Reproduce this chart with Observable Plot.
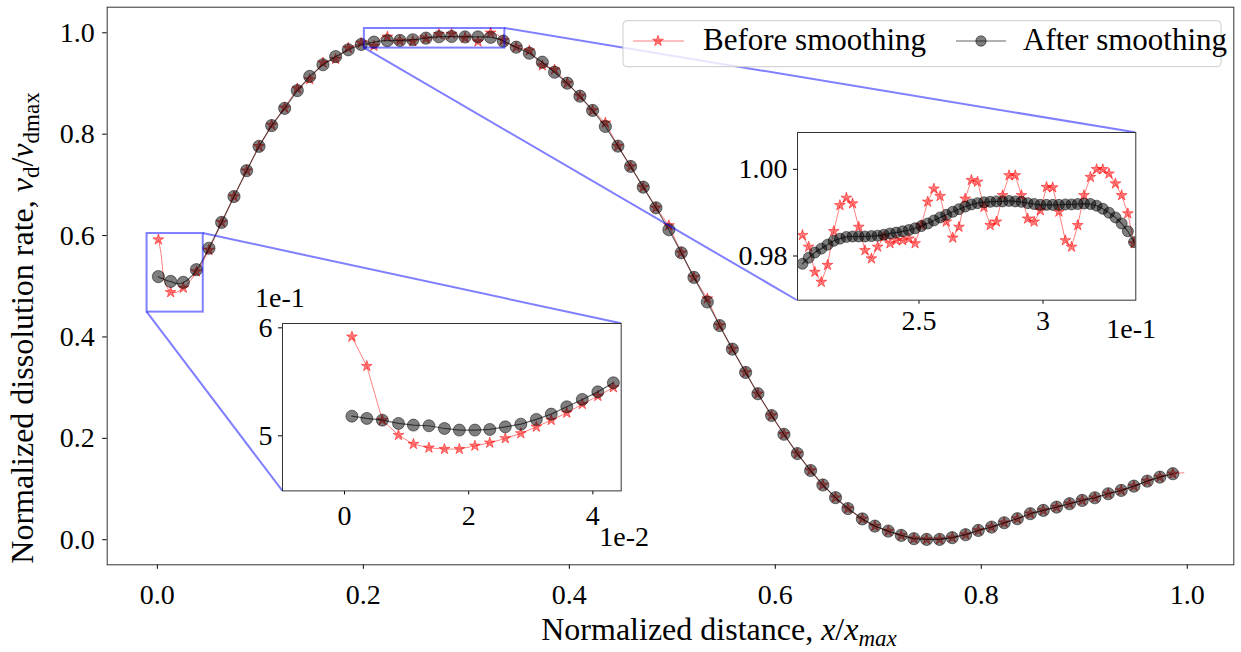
<!DOCTYPE html>
<html><head><meta charset="utf-8">
<script src="https://cdn.jsdelivr.net/npm/d3@7"></script>
<script src="https://cdn.jsdelivr.net/npm/@observablehq/plot@0.6"></script>
<style>
body{margin:0;background:#fff;}
#wrap{position:relative;width:1241px;height:652px;overflow:hidden;background:#fff;}
#wrap svg{position:absolute;overflow:visible;}
</style></head><body><div id="wrap"></div>
<script>
// ---------------- data ----------------
const seriesNames = ["Before smoothing", "After smoothing"];

// main-axes samples (every marked point)
const mainX = [0.001,0.0129,0.0252,0.0379,0.0501,0.0624,0.0744,0.0867,0.0987,0.1110,0.1236,0.1359,0.1479,0.1608,0.1731,0.1854,0.1980,0.2103,
  0.2233,0.2355,0.2480,0.2608,0.2734,0.2857,0.2987,0.3113,0.3236,0.3359,0.3485,0.3612,0.3738,0.3857,0.3980,0.4103,0.4226,0.4350,0.4472,0.4595,0.4718,0.4841,
  0.4967,0.5087,0.5210,0.5340,0.5459,0.5583,0.5712,0.5831,0.5964,0.6084,0.6214,0.6343,0.6462,0.6585,0.6705,
  0.6845,0.6967,0.7097,0.7223,0.7346,0.7469,0.7595,0.7718,0.7848,0.7971,0.8100,0.8223,0.8350,0.8476,0.8602,0.8731,0.8857,0.8980,0.9103,0.9233,0.9359,0.9482,0.9612,0.9734,0.9860];
const mainAfter = [0.519,0.5095,0.5077,0.5327,0.575,0.626,0.677,0.728,0.776,0.817,0.851,0.886,0.914,0.937,0.953,0.9665,0.977,0.9816,
  0.9845,0.9849,0.9863,0.9895,0.9922,0.9927,0.9918,0.9919,0.9910,0.9836,0.9716,0.9598,0.9420,0.9223,0.9006,0.8750,0.8468,0.8152,0.7764,0.7363,0.6955,0.6548,
  0.6115,0.5660,0.5175,0.4690,0.4225,0.3760,0.3300,0.2880,0.2450,0.2080,0.1700,0.1365,0.1080,0.0830,0.0615,
  0.0410,0.0268,0.0170,0.0085,0.0020,0.0006,0.0006,0.0040,0.0099,0.0183,0.0249,0.0335,0.0414,0.0513,0.0578,0.0643,0.0710,0.0775,0.0828,0.0907,0.0972,0.1057,0.1156,0.1235,0.1302];
const mainBefore = [0.592,0.488,0.4968,0.5290,0.5715,0.626,0.677,0.728,0.776,0.818,0.852,0.890,0.908,0.941,0.948,0.970,0.980,0.9740,
  0.9921,0.9842,0.9831,0.9885,0.9971,0.9977,0.9900,0.9826,1.0000,0.9850,0.9716,0.9648,0.9354,0.9273,0.9006,0.8750,0.8468,0.8225,0.7764,0.7363,0.6955,0.6548,
  0.6200,0.5660,0.5175,0.4756,0.4225,0.3760,0.3300,0.2880,0.2450,0.2080,0.1700,0.1365,0.1080,0.0830,0.0615,
  0.0410,0.0268,0.0170,0.0085,0.0020,0.0006,0.0006,0.0040,0.0099,0.0183,0.0249,0.0335,0.0414,0.0513,0.0578,0.0643,0.0710,0.0775,0.0828,0.0907,0.0972,0.1057,0.1156,0.1235,0.1302];
// unmarked last raw sample
const tailX = [0.9967];
const tailBefore = [0.1322];

// lower-left inset (dense samples)
const lowX = [0.0012,0.0036,0.0061,0.0087,0.0111,0.0136,0.0161,0.0185,0.0210,0.0234,0.0259,0.0284,0.0309,0.0333,0.0358,0.0383,0.0408,0.0433];
const lowBefore = [0.5917,0.5645,0.5145,0.5006,0.4923,0.4889,0.4877,0.4877,0.4907,0.4935,0.4976,0.5022,0.5083,0.5145,0.5213,0.5293,0.5368,0.5448];
const lowAfter = [0.5182,0.5161,0.5145,0.5115,0.5099,0.5093,0.5068,0.5053,0.5053,0.5059,0.5083,0.5108,0.5152,0.5201,0.5269,0.5337,0.5407,0.5491];

// upper inset (dense samples)
const upX = [0.2030,0.2055,0.2080,0.2106,0.2131,0.2156,0.2181,0.2207,0.2232,0.2257,0.2282,0.2308,0.2333,0.2358,0.2383,0.2408,0.2434,0.2459,
  0.2484,0.2509,0.2535,0.2560,0.2585,0.2610,0.2636,0.2661,0.2686,0.2711,0.2736,0.2762,0.2787,0.2812,0.2837,0.2863,0.2888,0.2913,
  0.2938,0.2964,0.2989,0.3014,0.3039,0.3064,0.3090,0.3115,0.3140,0.3165,0.3191,0.3216,0.3241,0.3266,0.3292,0.3317,0.3342,0.3367];
const upBefore = [0.9848,0.9821,0.9763,0.9740,0.9779,0.9857,0.9917,0.9934,0.9921,0.9867,0.9813,0.9794,0.9821,0.9844,0.9829,0.9836,0.9836,0.9840,
  0.9829,0.9871,0.9925,0.9955,0.9938,0.9879,0.9842,0.9867,0.9932,0.9975,0.9971,0.9913,0.9871,0.9879,0.9940,0.9986,0.9986,0.9940,
  0.9886,0.9879,0.9905,0.9959,0.9958,0.9902,0.9836,0.9821,0.9871,0.9940,0.9982,1.0000,1.0000,0.9990,0.9967,0.9940,0.9898,0.9829];
const upAfter = [0.9782,0.9796,0.9808,0.9817,0.9826,0.9835,0.9840,0.9844,0.9845,0.9845,0.9845,0.9846,0.9847,0.9849,0.9852,0.9854,0.9857,0.9860,
  0.9864,0.9869,0.9875,0.9882,0.9889,0.9895,0.9902,0.9908,0.9914,0.9919,0.9922,0.9924,0.9925,0.9926,0.9926,0.9927,0.9926,0.9925,
  0.9922,0.9920,0.9918,0.9918,0.9918,0.9918,0.9919,0.9919,0.9920,0.9921,0.9920,0.9916,0.9909,0.9900,0.9889,0.9875,0.9857,0.9832];

// axes limits and ticks
const mainXDomain = [-0.0487, 1.0452];
const mainYDomain = [-0.0495, 1.0505];
const mainXTicks = [0, 0.2, 0.4, 0.6, 0.8, 1.0];
const mainYTicks = [0, 0.2, 0.4, 0.6, 0.8, 1.0];
const lowXDomain = [-0.00998, 0.04456];
const lowYDomain = [0.449, 0.604];
const lowXTicks = [0, 0.02, 0.04];
const lowYTicks = [0.5, 0.6];
const upXDomain = [0.201, 0.3374];
const upYDomain = [0.9698, 1.0085];
const upXTicks = [0.25, 0.30];
const upYTicks = [0.98, 1.00];
const xLabelParts = [{t:"Normalized distance, "},{t:"x",it:1},{t:"/"},{t:"x",it:1},{t:"max",it:1,sub:1}];
const yLabelParts = [{t:"Normalized dissolution rate, "},{t:"v",it:1},{t:"d",sub:1},{t:"/"},{t:"v",it:1},{t:"dmax",sub:1}];

// ---------------- layout / style ----------------
const FONT = '"Liberation Serif", "Times New Roman", serif';
const FS = 28, FS_LABEL = 32, FS_SUB = 23, FS_LEG = 31;
const RED = "#ff0000", BLK = "#000000", BLUE = "#0000ff";
const W = 1241, H = 652;
const mainFrame = {l: 106.7, t: 6.7, r: 1233.3, b: 564.3};
const lowFrame = {l: 282.3, t: 323.3, r: 621, b: 490.7};
const upFrame = {l: 796.7, t: 132.3, r: 1135, b: 300};

const pts = (xs, ys) => xs.map((x, i) => ({x, y: ys[i]}));
const mainB = pts(mainX, mainBefore), mainA = pts(mainX, mainAfter);
const lowB = pts(lowX, lowBefore), lowA = pts(lowX, lowAfter);
const upB = pts(upX, upBefore), upA = pts(upX, upAfter);
const lineB = [...mainB, ...lowB, ...upB, ...pts(tailX, tailBefore)].sort((a, b) => a.x - b.x);
const lineA = [...mainA, ...lowA, ...upA].sort((a, b) => a.x - b.x);
const boxes = [
  {x1: lowXDomain[0], x2: lowXDomain[1], y1: lowYDomain[0], y2: lowYDomain[1]},
  {x1: upXDomain[0], x2: upXDomain[1], y1: upYDomain[0], y2: upYDomain[1]}
];

const STAR_R = 3.4;
const starOpts = {x: "x", y: "y", symbol: "star", r: STAR_R, fill: RED, fillOpacity: 0.5, stroke: RED, strokeOpacity: 0.5, strokeWidth: 1};
const circOpts = r => ({x: "x", y: "y", r, fill: BLK, fillOpacity: 0.5, stroke: BLK, strokeOpacity: 0.5, strokeWidth: 1});
const redLine = {x: "x", y: "y", stroke: RED, strokeOpacity: 0.5, strokeWidth: 1};
const blkLine = {x: "x", y: "y", stroke: BLK, strokeOpacity: 0.6, strokeWidth: 1.2};

const wrap = document.getElementById("wrap");

// ---------------- main axes ----------------
const mainPlot = Plot.plot({
  width: W, height: H,
  marginLeft: mainFrame.l, marginRight: W - mainFrame.r, marginTop: mainFrame.t, marginBottom: H - mainFrame.b,
  style: {fontFamily: FONT, fontSize: FS + "px", background: "transparent", color: "#000"},
  x: {domain: mainXDomain, ticks: mainXTicks, tickFormat: d3.format(".1f"), label: null, tickSize: 4.5, tickPadding: 15},
  y: {domain: mainYDomain, ticks: mainYTicks, tickFormat: d3.format(".1f"), label: null, tickSize: 4.5, tickPadding: 8},
  marks: [
    Plot.line(lineB, redLine),
    Plot.dot(mainB, starOpts),
    Plot.line(lineA, blkLine),
    Plot.dot(mainA, circOpts(6.1)),
    Plot.rect(boxes, {x1: "x1", x2: "x2", y1: "y1", y2: "y2", fill: "none", stroke: BLUE, strokeOpacity: 0.5, strokeWidth: 2}),
    Plot.frame({stroke: "#333", strokeWidth: 1})
  ]
});
mainPlot.style.left = "0px"; mainPlot.style.top = "0px";
wrap.appendChild(mainPlot);

// connectors of the zoom boxes (in the main axes, under the insets)
const sx = mainPlot.scale("x"), sy = mainPlot.scale("y");
const conn = d3.create("svg").attr("width", W).attr("height", H).style("left", "0px").style("top", "0px");
const segs = [
  [sx.apply(lowXDomain[0]), sy.apply(lowYDomain[0]), lowFrame.l, lowFrame.b],
  [sx.apply(lowXDomain[1]), sy.apply(lowYDomain[1]), lowFrame.r, lowFrame.t],
  [sx.apply(upXDomain[1]), sy.apply(upYDomain[1]), upFrame.r, upFrame.t],
  [sx.apply(upXDomain[0]), sy.apply(upYDomain[0]), upFrame.l, upFrame.b]
];
conn.selectAll("line").data(segs).join("line")
  .attr("x1", d => d[0]).attr("y1", d => d[1]).attr("x2", d => d[2]).attr("y2", d => d[3])
  .attr("stroke", BLUE).attr("stroke-opacity", 0.5).attr("stroke-width", 2);
wrap.appendChild(conn.node());

// ---------------- insets ----------------
function inset(frame, xd, yd, xt, yt, xf, yf, B, A, rc, padX, padY) {
  const mL = 80, mR = 40, mT = 20, mB = 60;
  const fw = frame.r - frame.l, fh = frame.b - frame.t;
  const p = Plot.plot({
    width: fw + mL + mR, height: fh + mT + mB,
    marginLeft: mL, marginRight: mR, marginTop: mT, marginBottom: mB,
    style: {fontFamily: FONT, fontSize: FS + "px", background: "transparent", color: "#000"},
    x: {domain: xd, ticks: xt, tickFormat: xf, label: null, tickSize: 4, tickPadding: padX},
    y: {domain: yd, ticks: yt, tickFormat: yf, label: null, tickSize: 4, tickPadding: padY},
    marks: [
      Plot.frame({fill: "white", stroke: "none"}),
      Plot.line(B, {...redLine, clip: true}),
      Plot.dot(B, {...starOpts, clip: true}),
      Plot.line(A, {...blkLine, clip: true}),
      Plot.dot(A, {...circOpts(rc), clip: true}),
      Plot.frame({stroke: "#333", strokeWidth: 1})
    ]
  });
  p.style.left = (frame.l - mL) + "px";
  p.style.top = (frame.t - mT) + "px";
  wrap.appendChild(p);
  return p;
}
inset(lowFrame, lowXDomain, lowYDomain, lowXTicks, lowYTicks,
  d => String(Math.round(d * 100)), d => String(Math.round(d * 10)), lowB, lowA, 6, 10, 6);
inset(upFrame, upXDomain, upYDomain, upXTicks, upYTicks,
  d => d3.format("~g")(+(d * 10).toFixed(3)), d3.format(".2f"), upB, upA, 5.5, 6, 6);

// ---------------- texts and legend ----------------
const overlay = d3.create("svg").attr("width", W).attr("height", H).style("left", "0px").style("top", "0px")
  .style("font-family", FONT).style("font-size", FS + "px");
function mathText(sel, parts) {
  let shifted = false;
  sel.attr("font-size", FS_LABEL);
  for (const p of parts) {
    const ts = sel.append("tspan").text(p.t);
    if (p.it) ts.attr("font-style", "italic");
    if (p.sub) { ts.attr("font-size", FS_SUB); if (!shifted) { ts.attr("dy", 6); shifted = true; } }
    else if (shifted) { ts.attr("dy", -6); shifted = false; }
  }
}
mathText(overlay.append("text").attr("x", 719).attr("y", 640).attr("text-anchor", "middle"), xLabelParts);
mathText(overlay.append("text").attr("transform", "translate(33,328) rotate(-90)").attr("text-anchor", "middle"), yLabelParts);
// scientific offset texts of the insets
overlay.append("text").attr("x", 255).attr("y", 307).text("1e-1");
overlay.append("text").attr("x", 649).attr("y", 546).attr("text-anchor", "end").text("1e-2");
overlay.append("text").attr("x", 1156).attr("y", 338).attr("text-anchor", "end").text("1e-1");

// legend
const lg = overlay.append("g").attr("font-size", FS_LEG);
lg.append("rect").attr("x", 623).attr("y", 20.7).attr("width", 598).attr("height", 46).attr("rx", 4)
  .attr("fill", "white").attr("fill-opacity", 0.8).attr("stroke", "#cccccc").attr("stroke-width", 1);
const ly = 41;
lg.append("line").attr("x1", 633).attr("x2", 684).attr("y1", ly).attr("y2", ly).attr("stroke", RED).attr("stroke-opacity", 0.5);
lg.append("path").attr("d", d3.symbol(d3.symbolStar, Math.PI * STAR_R * STAR_R)()).attr("transform", `translate(658,${ly})`)
  .attr("fill", RED).attr("fill-opacity", 0.5).attr("stroke", RED).attr("stroke-opacity", 0.5);
lg.append("text").attr("x", 703).attr("y", 50).text(seriesNames[0]);
lg.append("line").attr("x1", 956).attr("x2", 1006).attr("y1", ly).attr("y2", ly).attr("stroke", BLK).attr("stroke-opacity", 0.6).attr("stroke-width", 1.2);
lg.append("circle").attr("cx", 981).attr("cy", ly).attr("r", 5.2)
  .attr("fill", BLK).attr("fill-opacity", 0.5).attr("stroke", BLK).attr("stroke-opacity", 0.5);
lg.append("text").attr("x", 1023).attr("y", 50).text(seriesNames[1]);
wrap.appendChild(overlay.node());
</script></body></html>
